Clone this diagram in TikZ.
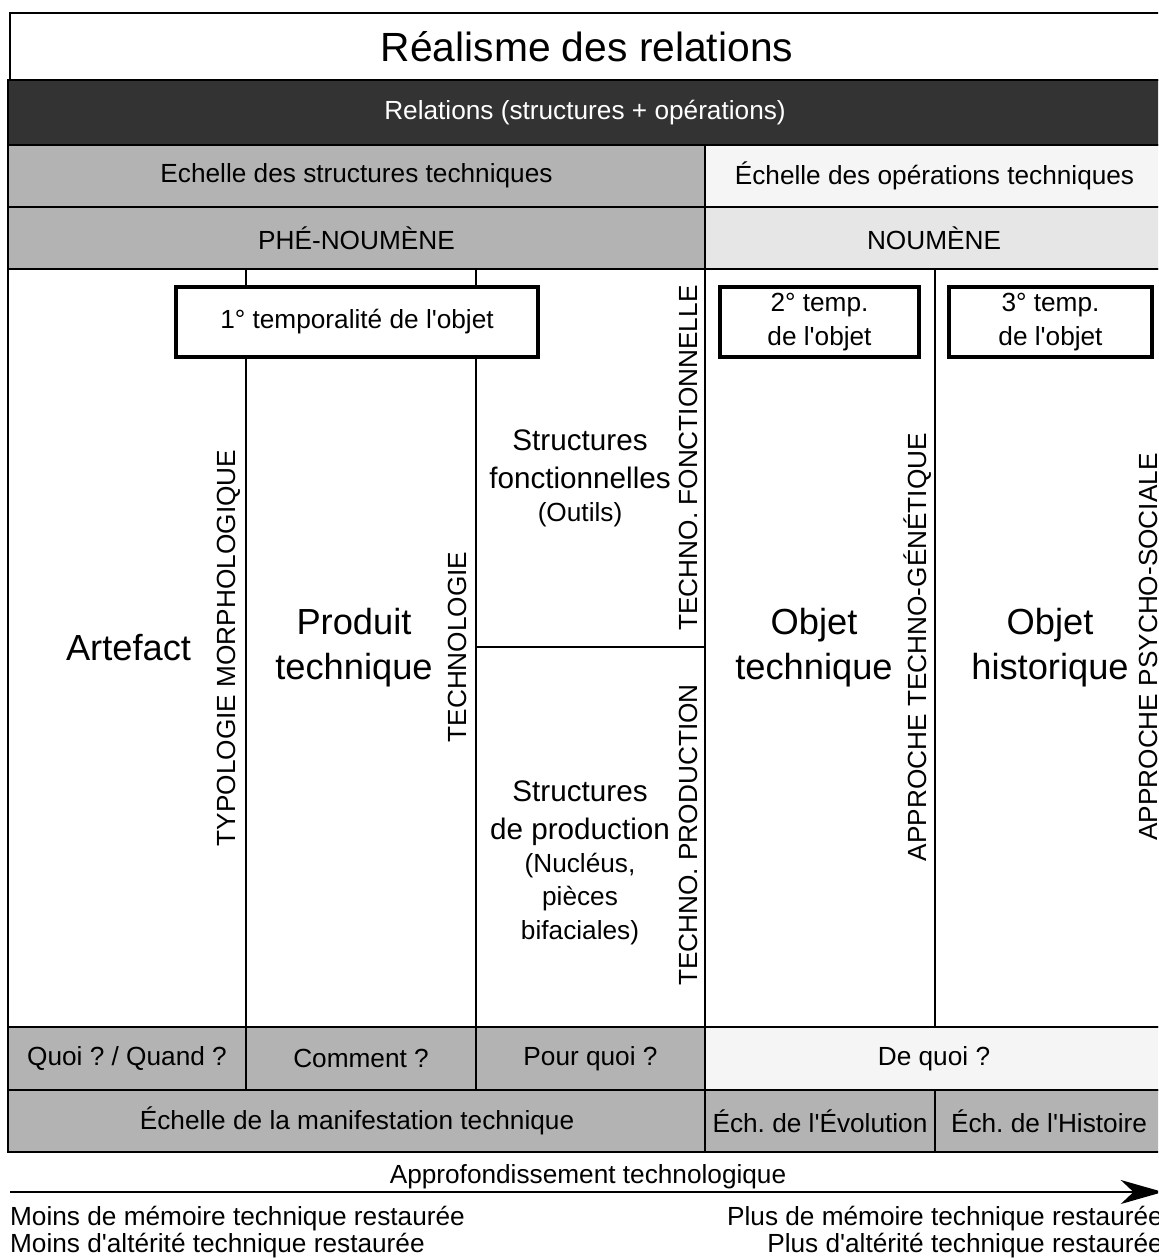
\documentclass[tikz,border=0pt]{standalone}
\usepackage{fontspec}
\setmainfont{Liberation Sans}
\usepackage{xcolor}
\usepackage{tikz}
\usetikzlibrary{arrows.meta}
\frenchspacing

\definecolor{fondnoir}{HTML}{333333}
\definecolor{gris}{HTML}{B3B3B3}
\definecolor{grisclair}{HTML}{E6E6E6}
\definecolor{blanccasse}{HTML}{F5F5F5}
\newcommand{\apos}{\textquotesingle}

\begin{document}
\begin{tikzpicture}[
		x=0.05cm, y=-0.05cm,
		rule/.style={draw=black, line width=2pt},
		heavy/.style={draw=black, line width=3pt},
		tempbox/.style={
			rectangle,
			draw=black,
			line width=5pt,
			fill=white,
			minimum height=3.5cm,
			inner sep=0pt
		},
		txt/.style={font=\fontsize{37.3}{48}\selectfont, align=center, inner sep=0pt},
		midtxt/.style={font=\fontsize{42.2}{54}\selectfont, align=center, inner sep=0pt},
		bigtxt/.style={font=\fontsize{51.6}{64}\selectfont, align=center, inner sep=0pt},
		titletxt/.style={font=\fontsize{58}{70}\selectfont, inner sep=0pt},
		vtxt/.style={txt, rotate=90},
		arrow/.style={
			-{Stealth[length=60pt,width=34pt,inset=18pt]},
			draw=black,
			line width=3.5pt
		}
		]
		
		\useasboundingbox (0,0) rectangle (1158,1258);
		\clip (0,0) rectangle (1158,1258);
		
		% bandeaux
		\draw[rule, fill=white] (10,13) rectangle (1200,80);
		\draw[rule, fill=fondnoir] (8,80) rectangle (1200,145);
		\draw[rule, fill=gris] (8,145) rectangle (705,207);
		\draw[rule, fill=blanccasse] (705,145) rectangle (1200,207);
		\draw[rule, fill=gris] (8,207) rectangle (705,269);
		\draw[rule, fill=grisclair] (705,207) rectangle (1200,269);
		
		% corps
		\draw[rule] (8,269) rectangle (1200,1027);
		\draw[rule] (476,647) -- (705,647);
		\draw[heavy] (705,269) -- (705,1027);
		\draw[rule] (935,269) -- (935,1027);
		\draw[heavy] (246,269) rectangle (476,1027);
		
		% questions et echelles
		\draw[rule, fill=gris] (8,1027) rectangle (705,1090);
		\draw[rule, fill=blanccasse] (705,1027) rectangle (1200,1090);
		\draw[rule] (246,1027) -- (246,1090);
		\draw[rule] (476,1027) -- (476,1090);
		\draw[rule, fill=gris] (8,1090) rectangle (1200,1152);
		\draw[rule] (705,1090) -- (705,1152);
		\draw[rule] (935,1090) -- (935,1152);
		
		\node[titletxt] (titre) at (587,46.5) {Réalisme des relations};
		\node[txt, text=white] (relations) at (585,112.5) {Relations (structures + opérations)};
		\node[txt] (echstruct) at (356.5,176) {Echelle des structures techniques};
		\node[txt] (echop) at (934.5,176) {Échelle des opérations techniques};
		\node[txt] (phenoumene) at (356.5,238) {PHÉ-NOUMÈNE};
		\node[txt] (noumene) at (934,238) {NOUMÈNE};
		
		\node[tempbox, txt, minimum width=18.1cm] (temp1) at (357,322) {1° temporalité de l\apos objet};
		\node[tempbox, txt, minimum width=9.95cm] (temp2) at (819.5,322) {2° temp.\\de l\apos objet};
		\node[tempbox, txt, minimum width=10.15cm] (temp3) at (1050.5,322) {3° temp.\\de l\apos objet};
		
		\node[bigtxt] (artefact) at (128.5,648) {Artefact};
		\node[vtxt] (typologie) at (229,648) {TYPOLOGIE MORPHOLOGIQUE};
		\node[bigtxt] (produit) at (354,648) {Produit\\technique};
		\node[vtxt] (technologie) at (457,647) {TECHNOLOGIE};
		
		\node[midtxt] (fonct) at (580,459) {Structures\\fonctionnelles};
		\node[txt] (outils) at (580,515) {(Outils)};
		\node[vtxt] (technofonct) at (688,458) {TECHNO. FONCTIONNELLE};
		\node[midtxt] (prod) at (580,813) {Structures\\de production};
		\node[txt] (nucleus) at (580,899) {(Nucléus,\\pièces\\bifaciales)};
		\node[vtxt] (technoprod) at (688,835) {TECHNO. PRODUCTION};
		
		\node[bigtxt] (objtech) at (814,648) {Objet\\technique};
		\node[vtxt] (genetique) at (918,647) {APPROCHE TECHNO-GÉNÉTIQUE};
		\node[bigtxt] (objhist) at (1050,648) {Objet\\historique};
		\node[vtxt] (psycho) at (1148,647) {APPROCHE PSYCHO-SOCIALE};
		
		\node[txt] (quoi) at (127,1058.5) {Quoi ? / Quand ?};
		\node[txt] (comment) at (361,1058.5) {Comment ?};
		\node[txt] (pourquoi) at (590.5,1058.5) {Pour quoi ?};
		\node[txt] (dequoi) at (934,1058.5) {De quoi ?};
		\node[txt] (manif) at (357,1121) {Échelle de la manifestation technique};
		\node[txt] (evol) at (820,1121) {Éch. de l\apos Évolution};
		\node[txt] (hist) at (1049,1121) {Éch. de l\apos Histoire};
		
		\node[txt, anchor=base] (approf) at (588,1183) {Approfondissement technologique};
		\coordinate (debut) at (10,1192);
		\coordinate (fin) at (1163,1192);
		\draw[arrow] (debut) -- (fin);
		
		\node[txt, font=\fontsize{37.3}{38.4}\selectfont, align=left, anchor=north west] (moins) at (10,1206)
		{Moins de mémoire technique restaurée\\Moins d\apos altérité technique restaurée};
		\node[txt, font=\fontsize{37.3}{38.4}\selectfont, align=right, anchor=north east] (plus) at (1163,1206)
		{Plus de mémoire technique restaurée\\Plus d\apos altérité technique restaurée};
		
	\end{tikzpicture}
\end{document}
